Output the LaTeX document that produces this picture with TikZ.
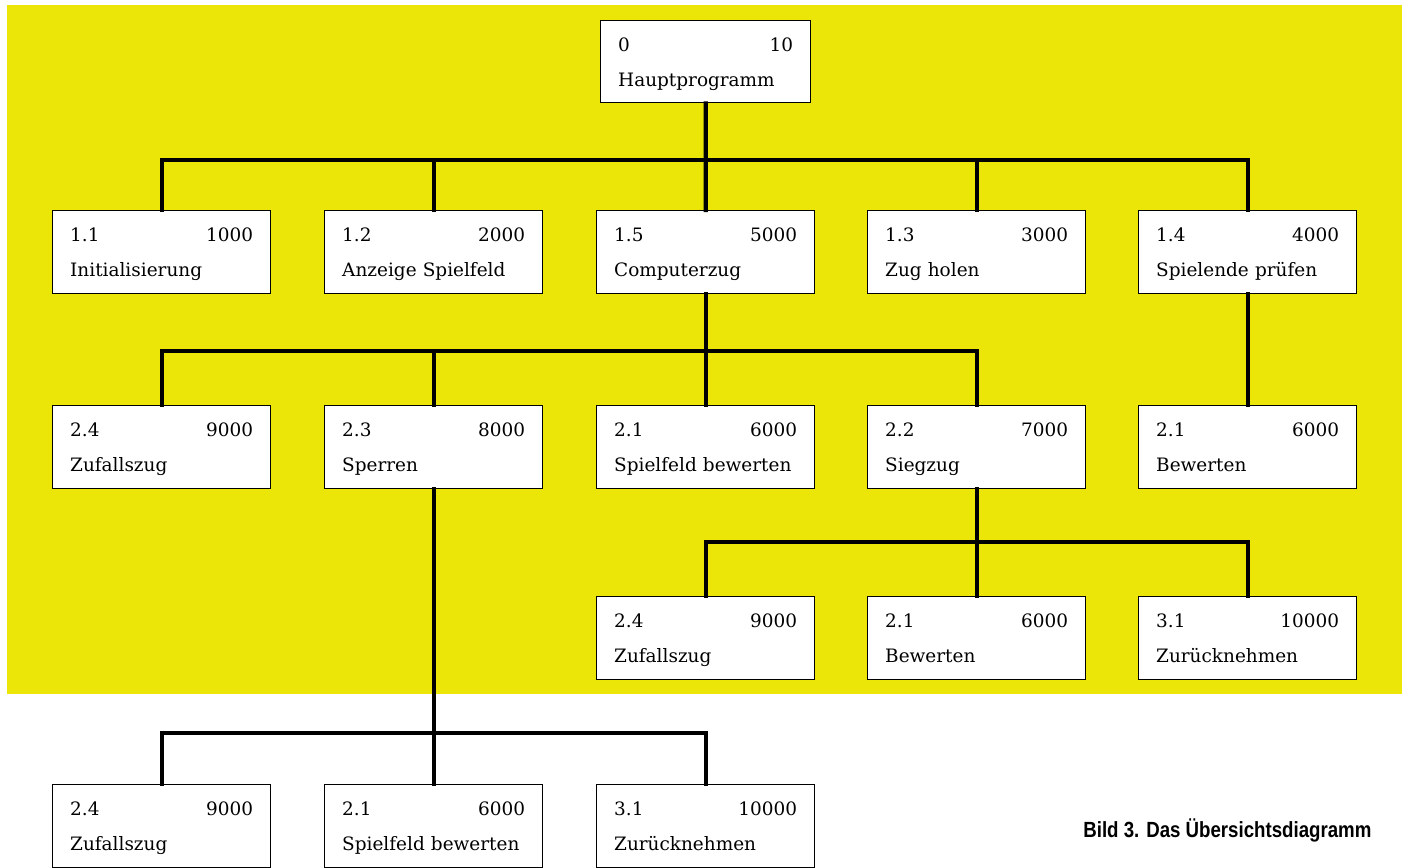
\documentclass[tikz,border=0pt]{standalone}
\usepackage{fontspec}
\setmainfont{DejaVu Serif}
\newfontfamily\capfont[FakeStretch=0.85]{Liberation Sans}
\usetikzlibrary{calc}
\definecolor{bgyellow}{RGB}{236,230,8}
\begin{document}
\begin{tikzpicture}[x=0.02cm,y=-0.02cm,
  pbox/.style={draw=black, line width=0.8pt, fill=white, rectangle, anchor=north west,
    minimum width=4.36cm, minimum height=1.66cm, text width=3.66cm, inner xsep=0.35cm,
    align=left, font=\fontsize{10.5pt}{19.9pt}\selectfont},
  conn/.style={draw=black, line width=2.4pt, line cap=rect, line join=miter}]
\useasboundingbox (0,0) rectangle (1406,868);
\fill[bgyellow] (7,5) rectangle (1402,694);
\newcommand\mybox[6]{\node[pbox] (#1) at (#2,#3) {\strut#4\hfill #5\\\strut#6};}
% coordinates for buses
\coordinate (b1) at (0,160);
\coordinate (b2) at (0,351);
\coordinate (b3) at (0,542);
\coordinate (b4) at (0,733);
% boxes
\node[pbox, minimum width=4.2cm, minimum height=1.64cm, text width=3.5cm] (root) at (600,20) {\strut0\hfill 10\\\strut Hauptprogramm};
\mybox{a}{52}{210}{1.1}{1000}{Initialisierung}
\mybox{b}{324}{210}{1.2}{2000}{Anzeige Spielfeld}
\mybox{c}{596}{210}{1.5}{5000}{Computerzug}
\mybox{d}{867}{210}{1.3}{3000}{Zug holen}
\mybox{e}{1138}{210}{1.4}{4000}{Spielende prüfen}
\mybox{f}{52}{405}{2.4}{9000}{Zufallszug}
\mybox{g}{324}{405}{2.3}{8000}{Sperren}
\mybox{h}{596}{405}{2.1}{6000}{Spielfeld bewerten}
\mybox{i}{867}{405}{2.2}{7000}{Siegzug}
\mybox{j}{1138}{405}{2.1}{6000}{Bewerten}
\mybox{k}{596}{596}{2.4}{9000}{Zufallszug}
\mybox{l}{867}{596}{2.1}{6000}{Bewerten}
\mybox{m}{1138}{596}{3.1}{10000}{Zurücknehmen}
\mybox{n}{52}{784}{2.4}{9000}{Zufallszug}
\mybox{o}{324}{784}{2.1}{6000}{Spielfeld bewerten}
\mybox{p}{596}{784}{3.1}{10000}{Zurücknehmen}
% level 1
\draw[conn] (a.north) -- (a.north |- b1) -- (e.north |- b1) -- (e.north);
\draw[conn] (root.south) -- (c.north);
\draw[conn] (b.north) -- (b.north |- b1);
\draw[conn] (d.north) -- (d.north |- b1);
% level 2
\draw[conn] (f.north) -- (f.north |- b2) -- (i.north |- b2) -- (i.north);
\draw[conn] (c.south) -- (h.north);
\draw[conn] (g.north) -- (g.north |- b2);
\draw[conn] (e.south) -- (j.north);
% level 3
\draw[conn] (k.north) -- (k.north |- b3) -- (m.north |- b3) -- (m.north);
\draw[conn] (i.south) -- (l.north);
% level 4
\draw[conn] (n.north) -- (n.north |- b4) -- (p.north |- b4) -- (p.north);
\draw[conn] (g.south) -- (o.north);
% caption
\node[anchor=west, inner sep=0pt, font=\capfont\bfseries\fontsize{12.5pt}{15pt}\selectfont] (cap) at (1083,830) {Bild 3. Das Übersichtsdiagramm};
\end{tikzpicture}
\end{document}
